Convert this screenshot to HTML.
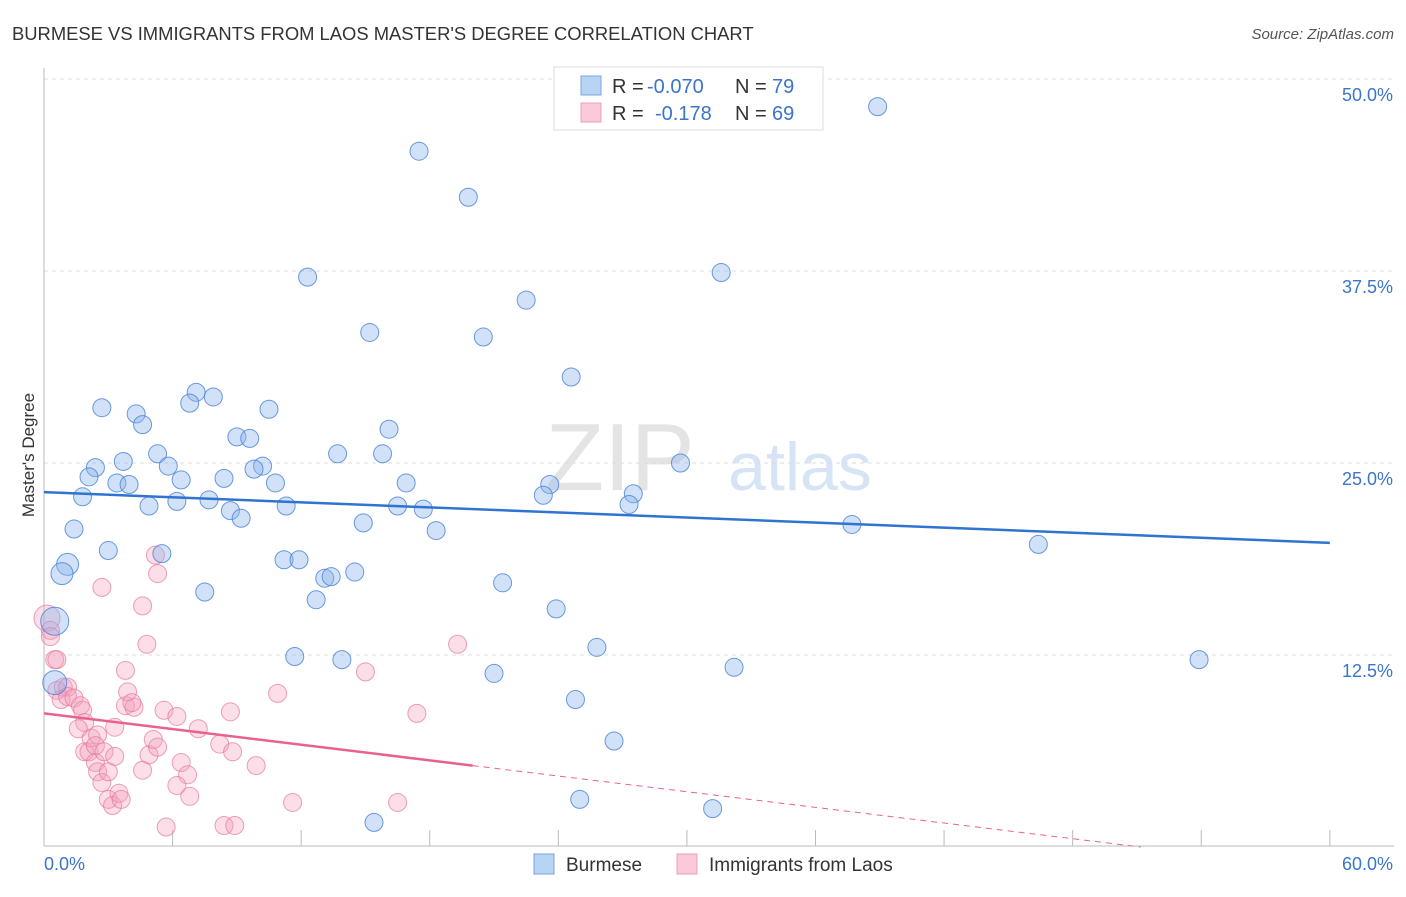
<!DOCTYPE html>
<html><head><meta charset="utf-8">
<style>
body{margin:0;background:#fff;font-family:"Liberation Sans",sans-serif;}
svg text{font-family:"Liberation Sans",sans-serif;}
</style></head>
<body>
<svg id="chart" width="1406" height="892" viewBox="0 0 1406 892" xmlns="http://www.w3.org/2000/svg">
<text x="12" y="40" font-size="18.4" fill="#333">BURMESE VS IMMIGRANTS FROM LAOS MASTER'S DEGREE CORRELATION CHART</text>
<text x="1394" y="39" font-size="15" fill="#555" text-anchor="end" font-style="italic">Source: ZipAtlas.com</text>
<text x="620" y="490" font-size="96" fill="#e4e4e4" font-family="Liberation Serif" text-anchor="middle">ZIP</text>
<text x="800" y="490" font-size="68" fill="#d6e4f5" text-anchor="middle">atlas</text>
<text transform="translate(34,455) rotate(-90)" font-size="17" fill="#333" text-anchor="middle">Master's Degree</text>
<g id="grid"></g>
<g id="pts"></g>
<g id="trend"></g>
<g>
<rect x="554" y="67" width="269" height="63" fill="#fff" stroke="#ddd"/>
<rect x="581" y="76" width="20" height="19" fill="#b9d3f3" stroke="#7aa6e0"/>
<rect x="581" y="103" width="20" height="19" fill="#fbc9d8" stroke="#eea0b8"/>
<text x="612" y="93" font-size="20" fill="#333">R = </text><text x="647" y="93" font-size="20" fill="#3a74cc">-0.070</text>
<text x="735" y="93" font-size="20" fill="#333">N = </text><text x="772" y="93" font-size="20" fill="#3a74cc">79</text>
<text x="612" y="120" font-size="20" fill="#333">R = </text><text x="655" y="120" font-size="20" fill="#3a74cc">-0.178</text>
<text x="735" y="120" font-size="20" fill="#333">N = </text><text x="772" y="120" font-size="20" fill="#3a74cc">69</text>
</g>
<g>
<rect x="534" y="854" width="20" height="20" fill="#b9d3f3" stroke="#7aa6e0"/>
<text x="566" y="871" font-size="19" fill="#333">Burmese</text>
<rect x="677" y="854" width="20" height="20" fill="#fbc9d8" stroke="#eea0b8"/>
<text x="709" y="871" font-size="19" fill="#333">Immigrants from Laos</text>
</g>
</svg>
<script>
const yTicks=[12.5,25,37.5,50];
const yTickLabels=["12.5%","25.0%","37.5%","50.0%"];
const xTicks=[0,6,12,18,24,30,36,42,48,54,60];
const xLabels=["0.0%","60.0%"];
const blueX=[38.9,17.5,19.8,12.3,31.6,22.5,15.2,20.5,24.6,7.1,7.9,6.8,2.7,10.5,4.3,4.6,16.1,9.0,9.6,13.7,15.8,5.3,3.7,10.2,2.4,5.8,9.8,29.7,2.1,8.4,6.4,3.4,3.97,10.8,16.9,23.6,1.8,23.3,27.5,7.7,6.2,4.9,11.3,16.5,17.7,27.3,8.7,9.2,14.9,37.7,1.4,18.3,46.4,3.0,5.5,1.1,11.2,11.9,0.84,14.5,13.1,13.4,21.4,7.5,12.7,23.9,0.5,25.8,11.7,13.9,53.9,32.2,21.0,0.5,24.8,26.6,25.0,31.2,15.4];
const blueY=[48.2,45.3,42.3,37.1,37.4,35.6,33.5,33.2,30.6,29.6,29.3,28.9,28.6,28.5,28.2,27.5,27.2,26.7,26.6,25.6,25.6,25.6,25.1,24.8,24.7,24.8,24.6,25.0,24.1,24.0,23.9,23.7,23.6,23.7,23.7,23.6,22.8,22.9,23.0,22.6,22.5,22.2,22.2,22.2,22.0,22.3,21.9,21.4,21.1,21.0,20.7,20.6,19.7,19.3,19.1,18.4,18.7,18.7,17.8,17.9,17.5,17.6,17.2,16.6,16.1,15.5,14.7,13.0,12.4,12.2,12.2,11.7,11.3,10.7,9.6,6.9,3.1,2.5,1.6];
const blueR=[9,9,9,9,9,9,9,9,9,9,9,9,9,9,9,9,9,9,9,9,9,9,9,9,9,9,9,9,9,9,9,9,9,9,9,9,9,9,9,9,9,9,9,9,9,9,9,9,9,9,9,9,9,9,9,11,9,9,11,9,9,9,9,9,9,9,14,9,9,9,9,9,9,12,9,9,9,9,9];
const pinkX=[0.14,0.3,0.3,0.5,0.6,0.9,1.1,0.8,1.1,1.4,1.7,1.8,1.9,1.6,1.9,2.1,2.2,2.5,2.4,2.4,2.5,2.7,3.0,2.8,3.0,3.2,3.5,3.6,3.3,3.3,3.8,3.8,4.2,3.9,4.1,2.7,4.6,4.8,5.3,5.2,4.6,4.9,5.1,5.3,5.6,6.2,5.7,6.4,6.7,6.2,6.8,7.2,8.2,8.7,8.8,8.4,8.9,9.9,10.9,11.6,15.0,16.5,17.4,19.3,0.6];
const pinkY=[14.9,14.1,13.7,12.2,10.2,10.4,10.4,9.6,9.8,9.7,9.2,8.9,8.1,7.7,6.2,6.2,7.1,7.3,6.6,5.5,4.9,4.2,4.9,6.2,3.1,2.7,3.5,3.1,5.9,7.8,9.2,11.5,9.1,10.1,9.4,16.9,15.7,13.2,17.8,19.0,5.0,6.0,7.0,6.5,8.9,8.5,1.3,5.5,4.7,4.0,3.3,7.7,6.7,8.8,6.2,1.4,1.4,5.3,10.0,2.9,11.4,2.9,8.7,13.2,12.2];
const blueTrend=[23.1,19.8]; // value at x=0 and x=60
const pinkTrend=[8.7,-0.17]; // intercept, slope per %
const pinkSolidEnd=20;

const X=v=>44+v*21.43, Y=v=>847-v*15.36;
const NS="http://www.w3.org/2000/svg";
function mk(tag,attrs,parent){const e=document.createElementNS(NS,tag);for(const k in attrs)e.setAttribute(k,attrs[k]);parent.appendChild(e);return e;}
const grid=document.getElementById('grid');
mk('line',{x1:44,y1:79,x2:1394,y2:79,stroke:'#ddd','stroke-dasharray':'4,4'},grid);
yTicks.forEach((t,i)=>{
  const l=mk('line',{x1:44,y1:Y(t),x2:1394,y2:Y(t),stroke:'#ddd','stroke-dasharray':'4,4'},grid);
  
  
  const tx=mk('text',{x:1393,y:Y(t)+22,'font-size':18,fill:'#3a74cc','text-anchor':'end'},grid);
  tx.textContent=yTickLabels[i];
  
  
});
const ax=mk('line',{x1:44,y1:68,x2:44,y2:846,stroke:'#bbb'},grid);


const bx=mk('line',{x1:44,y1:846,x2:1394,y2:846,stroke:'#bbb'},grid);


xTicks.forEach(t=>{
  const l=mk('line',{x1:X(t),y1:830,x2:X(t),y2:846,stroke:'#bbb'},grid);
  
  
});
const xl0=mk('text',{x:44,y:870,'font-size':18,fill:'#3a74cc'},grid);xl0.textContent=xLabels[0];


const xl1=mk('text',{x:1393,y:870,'font-size':18,fill:'#3a74cc','text-anchor':'end'},grid);xl1.textContent=xLabels[1];



const pts=document.getElementById('pts');
pinkX.forEach((v,i)=>{
  const c=mk('circle',{cx:X(v),cy:Y(pinkY[i]),r:i==0?13:9,fill:'rgba(244,160,188,0.35)',stroke:'rgba(230,120,155,0.7)','stroke-width':1},pts);
  
  
});
blueX.forEach((v,i)=>{
  const c=mk('circle',{cx:X(v),cy:Y(blueY[i]),r:blueR[i],fill:'rgba(140,180,235,0.4)',stroke:'rgba(70,130,215,0.8)','stroke-width':1},pts);
  
  
});
const tr=document.getElementById('trend');
const bl=mk('line',{x1:X(0),y1:Y(blueTrend[0]),x2:X(60),y2:Y(blueTrend[1]),stroke:'#2f74d0','stroke-width':2.5},tr);


const pv=x=>pinkTrend[0]+pinkTrend[1]*x;
const pl=mk('line',{x1:X(0),y1:Y(pv(0)),x2:X(pinkSolidEnd),y2:Y(pv(pinkSolidEnd)),stroke:'#e8628e','stroke-width':2.5},tr);


const xEnd=-pinkTrend[0]/pinkTrend[1];
const pd=mk('line',{x1:X(pinkSolidEnd),y1:Y(pv(pinkSolidEnd)),x2:X(xEnd),y2:Y(0),stroke:'#e8628e','stroke-width':1,'stroke-dasharray':'6,5'},tr);


</script>
</body></html>
